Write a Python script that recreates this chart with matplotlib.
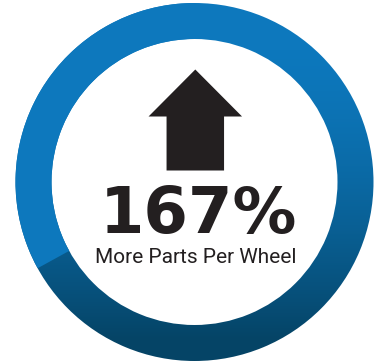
import numpy as np
import matplotlib
matplotlib.use("Agg")
import matplotlib.pyplot as plt
from matplotlib.colors import LinearSegmentedColormap
from matplotlib.patches import Wedge

# ring shares: flat part, then the gradient part (the "67" of 167%)
ring_labels = ["base", "increase"]
ring_shares = [33, 67]
headline_pct = 167
caption = "More Parts Per Wheel"

W, H = 382, 362
flat_blue = "#0d78bd"
grad_cmap = LinearSegmentedColormap.from_list("ring", ["#0d78bd", "#054466"])
ink = "#231f20"

fig = plt.figure(figsize=(W / 100, H / 100), dpi=100)
ax = fig.add_axes([0, 0, 1, 1])

cx, cy = 194.5, H - 182
r_out, r_in = 179, 143

wedges, _ = ax.pie(ring_shares, startangle=90, counterclock=True,
                   radius=r_out, center=(cx, cy), frame=True,
                   colors=[flat_blue, "none"],
                   wedgeprops=dict(width=r_out - r_in, linewidth=0))
wedges[0].set_zorder(2)
ax.set_xlim(0, W)
ax.set_ylim(0, H)
ax.set_aspect("equal")
ax.axis("off")

# top-to-bottom gradient under the whole ring; the flat wedge sits on top
xs = np.linspace(0, W, W)
ys = np.linspace(H, 0, H)
gx, gy = np.meshgrid(xs, ys)
s = np.clip(((H - gy) - 40) / 300, 0, 1)
t = s ** 1.6
img = ax.imshow(t, cmap=grad_cmap, extent=(0, W, 0, H), origin="upper",
                vmin=0, vmax=1, interpolation="bilinear", zorder=1)
ring = Wedge((cx, cy), r_out, 0, 360, width=r_out - r_in,
             facecolor="none", edgecolor="none", transform=ax.transData)
ax.add_patch(ring)
img.set_clip_path(ring)

# up arrow
ax.arrow(195.3, H - 170.5, 0, 54, width=57.5, head_width=93.5,
         head_length=47, length_includes_head=False, color=ink, lw=0, zorder=3)

ax.text(198.3, H - 233, f"{headline_pct}%", ha="center", va="baseline",
        fontsize=46, fontweight="bold", family="DejaVu Sans", color=ink, zorder=3)
ax.text(195.5, H - 262.7, caption, ha="center", va="baseline",
        fontsize=15, fontweight="normal", family="Roboto", color=ink, zorder=3)

fig.savefig("out.png", dpi=100)
